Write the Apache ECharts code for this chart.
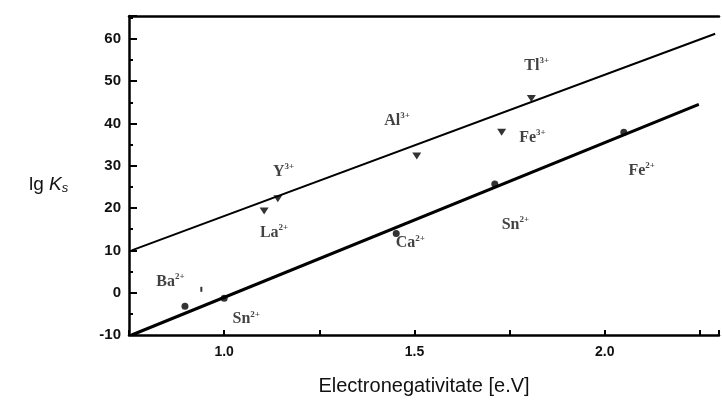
<!DOCTYPE html>
<html><head><meta charset="utf-8">
<script src="https://cdn.jsdelivr.net/npm/echarts@6/dist/echarts.min.js"></script>
<style>html,body{margin:0;padding:0;background:#fff}#c{width:722px;height:401px}</style>
</head><body><div id="c"></div>
<script>
// Data
const xTickLabels = [1.0, 1.5, 2.0];
const yTickLabels = [-10, 0, 10, 20, 30, 40, 50, 60];
// divalent ions (circles, lower line)
const lowerPoints = [[0.897, -3.2], [1.0, -1.3], [1.452, 14.0], [1.711, 25.7], [2.05, 37.9]];
// trivalent ions (down-triangles, upper line)
const upperPoints = [[1.105, 19.3], [1.141, 22.2], [1.506, 32.3], [1.729, 37.9], [1.807, 45.9]];
// stray mark near Ba
const strayMark = [[0.94, 0.8]];
// fitted lines (endpoints)
const upperLine = [[0.757, 10.0], [2.29, 61.2]];
const lowerLine = [[0.757, -10.0], [2.247, 44.5]];
// ion labels: [x, y, symbol, charge]
const ionLabels = [
  [0.859, 2.6, 'Ba', '2+'],
  [1.058, -6.3, 'Sn', '2+'],
  [1.131, 14.2, 'La', '2+'],
  [1.156, 28.6, 'Y', '3+'],
  [1.489, 11.7, 'Ca', '2+'],
  [1.454, 40.6, 'Al', '3+'],
  [1.765, 16.1, 'Sn', '2+'],
  [1.821, 53.7, 'Tl', '3+'],
  [1.810, 36.7, 'Fe', '3+'],
  [2.097, 28.9, 'Fe', '2+']
];

const chart = echarts.init(document.getElementById('c'));
const serif = 'Liberation Serif';
const sans = 'Liberation Sans';
chart.setOption({
  animation: false,
  grid: {left: 129, top: 16, right: -3, bottom: 64, containLabel: false},
  xAxis: [{
    type: 'value', min: 0.75, max: 2.3, interval: 0.25,
    name: 'Electronegativitate [e.V]', nameLocation: 'middle', nameGap: 41,
    nameTextStyle: {fontFamily: sans, fontSize: 20, color: '#111'},
    axisLine: {show: true, onZero: false, lineStyle: {color: '#000', width: 2.5}},
    axisTick: {show: true, inside: true, length: 5, lineStyle: {color: '#000', width: 2}},
    axisLabel: {
      margin: 10, fontFamily: sans, fontSize: 14, fontWeight: 'bold', color: '#111',
      formatter: v => xTickLabels.some(t => Math.abs(t - v) < 1e-6) ? v.toFixed(1) : ''
    },
    splitLine: {show: false}
  }, {
    type: 'value', position: 'top', min: 0.75, max: 2.3,
    axisLine: {show: true, onZero: false, lineStyle: {color: '#000', width: 2.5}},
    axisTick: {show: false}, axisLabel: {show: false}, splitLine: {show: false}
  }],
  yAxis: {
    type: 'value', min: -10, max: 65.4, interval: 10,
    axisLine: {show: true, onZero: false, lineStyle: {color: '#000', width: 2.5}},
    axisTick: {show: true, inside: true, length: 8, lineStyle: {color: '#000', width: 2}},
    minorTick: {show: true, splitNumber: 2, length: 4, lineStyle: {color: '#000', width: 2}},
    axisLabel: {
      margin: 8, fontFamily: sans, fontSize: 15, fontWeight: 'bold', color: '#111',
      formatter: v => yTickLabels.includes(v) ? String(v) : ''
    },
    splitLine: {show: false}
  },
  graphic: [{
    type: 'text', left: 29, top: 175,
    style: {
      text: '{n|lg }{k|K}{s|s}',
      rich: {
        n: {fontFamily: sans, fontSize: 19, fill: '#111'},
        k: {fontFamily: sans, fontStyle: 'italic', fontSize: 19, fill: '#111'},
        s: {fontFamily: sans, fontStyle: 'italic', fontSize: 13, fill: '#111', padding: [8, 0, 0, 0]}
      }
    }
  }],
  series: [
    {type: 'line', data: upperLine, symbol: 'none', lineStyle: {color: '#000', width: 2}, silent: true, z: 2},
    {type: 'line', data: lowerLine, symbol: 'none', lineStyle: {color: '#000', width: 3}, silent: true, z: 2},
    {type: 'scatter', data: lowerPoints, symbol: 'circle', symbolSize: 7, itemStyle: {color: '#000'}, z: 3},
    {type: 'scatter', data: upperPoints, symbol: 'triangle', symbolRotate: 180, symbolSize: [9, 7], itemStyle: {color: '#000'}, z: 3},
    {type: 'scatter', data: strayMark, symbol: 'rect', symbolSize: [2, 5], itemStyle: {color: '#000'}, z: 3},
    {
      type: 'scatter', symbolSize: 0, z: 4,
      data: ionLabels.map(l => ({value: [l[0], l[1]], sym: l[2], ch: l[3]})),
      label: {
        show: true, position: 'inside',
        formatter: p => '{a|' + p.data.sym + '}{b|' + p.data.ch + '}',
        rich: {
          a: {fontFamily: serif, fontWeight: 'bold', fontSize: 16, color: '#111'},
          b: {fontFamily: serif, fontWeight: 'bold', fontSize: 9, color: '#111', padding: [0, 0, 10, 0]}
        }
      }
    }
  ]
});
</script></body></html>
